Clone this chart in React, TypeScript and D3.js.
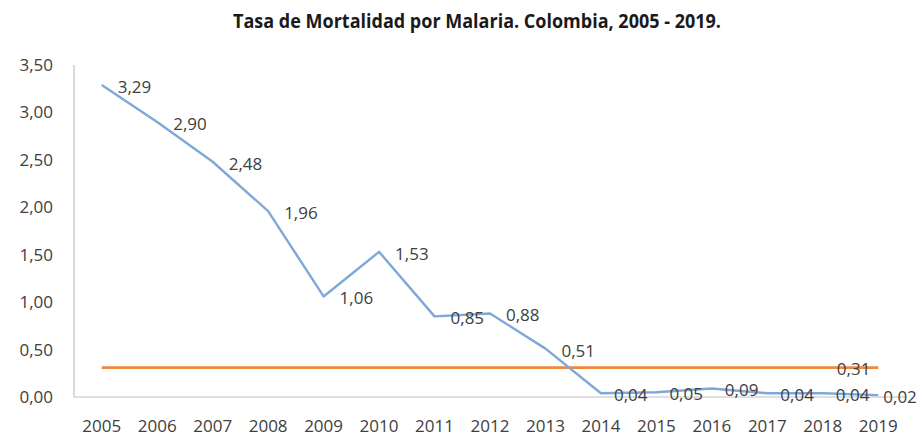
import React from "react";
import * as d3 from "d3";

const years = ["2005","2006","2007","2008","2009","2010","2011","2012","2013","2014","2015","2016","2017","2018","2019"];
const rates = [3.29, 2.90, 2.48, 1.96, 1.06, 1.53, 0.85, 0.88, 0.51, 0.04, 0.05, 0.09, 0.04, 0.04, 0.02];
const goal = [0.31,0.31,0.31,0.31,0.31,0.31,0.31,0.31,0.31,0.31,0.31,0.31,0.31,0.31,0.31];
const yTicks = [0, 0.5, 1, 1.5, 2, 2.5, 3, 3.5];
const title = "Tasa de Mortalidad por Malaria. Colombia, 2005 - 2019.";

const W = 921, H = 436;
const M = { left: 74, right: 906, top: 65, bottom: 397 };
const FONT = "'Open Sans', 'Liberation Sans', sans-serif";
const TXT = "#404040";

const fmt = (v: number) => d3.format(".2f")(v).replace(".", ",");

export default function App() {
  const x = d3.scaleBand<string>().domain(years).range([M.left, M.right]).padding(0);
  const cx = (d: string) => (x(d) as number) + x.bandwidth() / 2;
  const y = d3.scaleLinear().domain([0, 3.5]).range([M.bottom, M.top]);

  const line = d3.line<number>().x((_, i) => cx(years[i])).y((v) => y(v));

  return (
    <svg width={W} height={H} style={{ position: "absolute", left: 0, top: 0, background: "#fff" }} fontFamily={FONT}>
      <text x={477} y={28} textAnchor="middle" fontWeight="bold" fontSize={19} fill="#1a1a1a"
        textLength={488} lengthAdjust="spacingAndGlyphs">{title}</text>

      {/* axes */}
      <line x1={M.left} x2={M.left} y1={M.top} y2={M.bottom} stroke="#bfbfbf" strokeWidth={1.2} />
      <line x1={M.left} x2={M.right} y1={M.bottom} y2={M.bottom} stroke="#bfbfbf" strokeWidth={1.2} />

      {yTicks.map((t) => (
        <text key={t} x={53} y={y(t)} dy="0.35em" textAnchor="end" fontSize={17} fill={TXT}>{fmt(t)}</text>
      ))}
      {years.map((yr) => (
        <text key={yr} x={cx(yr)} y={432} textAnchor="middle" fontSize={17} fill={TXT}>{yr}</text>
      ))}

      {/* goal line */}
      <path d={line(goal) || ""} fill="none" stroke="#f0883e" strokeWidth={2.6} />
      {/* rate line */}
      <path d={line(rates) || ""} fill="none" stroke="#7fa8d8" strokeWidth={2.4} strokeLinejoin="round" />

      {rates.map((v, i) => (
        <text key={i} x={cx(years[i]) + (i === rates.length - 1 ? 5 : i >= 9 ? 13 : 16)} y={y(v) + 2} dy="0.35em"
          fontSize={17} fill={TXT}>{fmt(v)}</text>
      ))}
      <text x={cx(years[13]) + 14} y={y(goal[13]) + 1} dy="0.35em" fontSize={17} fill={TXT}>{fmt(goal[13])}</text>
    </svg>
  );
}
